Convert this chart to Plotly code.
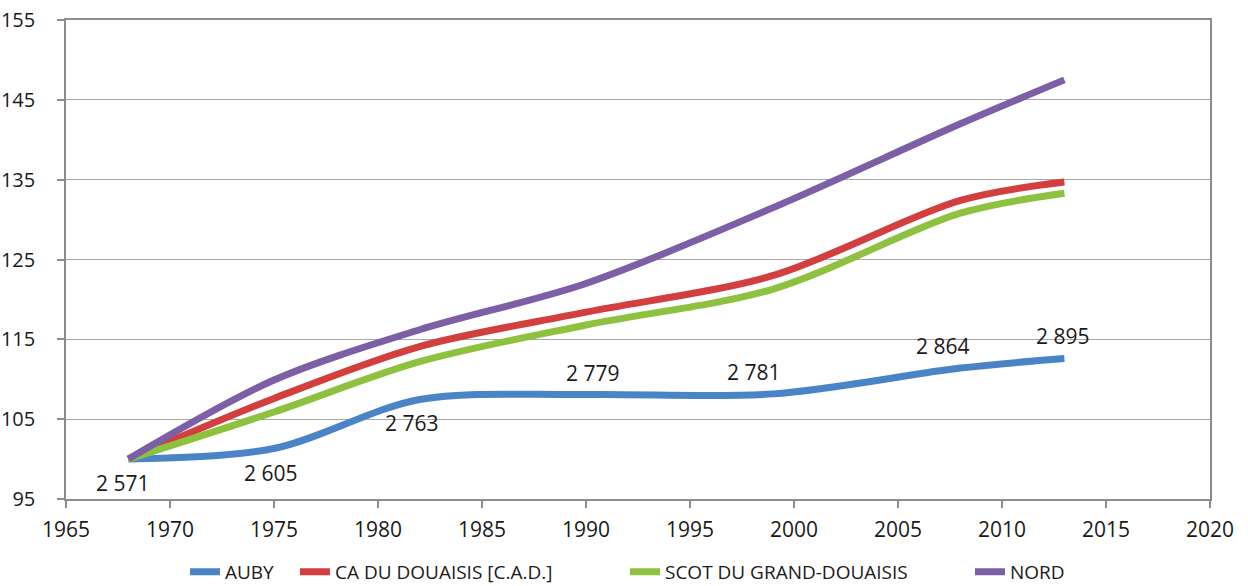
import plotly.graph_objects as go

# Census years and indexed series (base 100 in 1968)
years = [1968, 1975, 1982, 1990, 1999, 2008, 2013]
auby_pop = [2571, 2605, 2763, 2779, 2781, 2864, 2895]
cad_index = [100, 107.6, 114.1, 118.4, 123.0, 132.4, 134.7]
scot_index = [100, 105.9, 112.2, 116.8, 121.3, 130.8, 133.3]
nord_index = [100, 109.9, 116.2, 122.0, 131.5, 142.0, 147.5]

series_names = ["AUBY", "CA DU DOUAISIS [C.A.D.]", "SCOT DU GRAND-DOUAISIS", "NORD"]
colors = ["#4A84C6", "#D23F3E", "#8DC13F", "#7D5FA6"]
legend_widths = [65, 285, 300, 60]

auby_index = [p / auby_pop[0] * 100 for p in auby_pop]
label_below = [True, True, True, False, False, False, False]
label_xshift = [-6, -4, -8, 6, -20, -18, -2]

FONT = "Open Sans"

fig = go.Figure()
for name, vals, col, lw in zip(series_names, [auby_index, cad_index, scot_index, nord_index],
                               colors, legend_widths):
    fig.add_trace(go.Scatter(
        x=years, y=vals, name=name, mode="lines",
        line=dict(color=col, width=7, shape="spline", smoothing=0.9),
        legendwidth=lw, hoverinfo="x+y",
    ))

# Population labels on the AUBY curve
annotations = []
for yr, v, p, below, dx in zip(years, auby_index, auby_pop, label_below, label_xshift):
    txt = f"{p:,}".replace(",", " ")
    annotations.append(dict(
        x=yr, y=v, xref="x", yref="y", text=txt, showarrow=False,
        xshift=dx, yshift=-24 if below else 22,
        font=dict(family=FONT, size=21, color="#1a1a1a"),
    ))

fig.update_layout(
    width=1248, height=586,
    margin=dict(l=66, r=38, t=20, b=87, autoexpand=False),
    paper_bgcolor="white", plot_bgcolor="white",
    font=dict(family=FONT, size=21, color="#1a1a1a"),
    annotations=annotations,
    showlegend=True,
    legend=dict(
        orientation="h", x=0.104, xanchor="left", y=-0.152, yanchor="middle",
        font=dict(family=FONT, size=19, color="#1a1a1a"),
        itemwidth=30, tracegroupgap=0, traceorder="normal",
    ),
    xaxis=dict(
        range=[1965, 2020], dtick=5, tick0=1965,
        showgrid=False, zeroline=False,
        showline=True, linecolor="#8C8C8C", linewidth=1.5, mirror=True,
        ticks="outside", ticklen=7, tickcolor="#8C8C8C", tickwidth=1.5,
        ticklabelstandoff=4,
        tickfont=dict(family=FONT, size=21, color="#1a1a1a"),
    ),
    yaxis=dict(
        range=[95, 155], dtick=10, tick0=95,
        showgrid=True, gridcolor="#A8A8A8", gridwidth=1, zeroline=False,
        showline=True, linecolor="#8C8C8C", linewidth=1.5, mirror=True,
        ticks="outside", ticklen=7, tickcolor="#8C8C8C", tickwidth=1.5,
        ticklabelstandoff=18,
        tickfont=dict(family=FONT, size=20, color="#1a1a1a"),
    ),
)

fig.write_html("out.html")
